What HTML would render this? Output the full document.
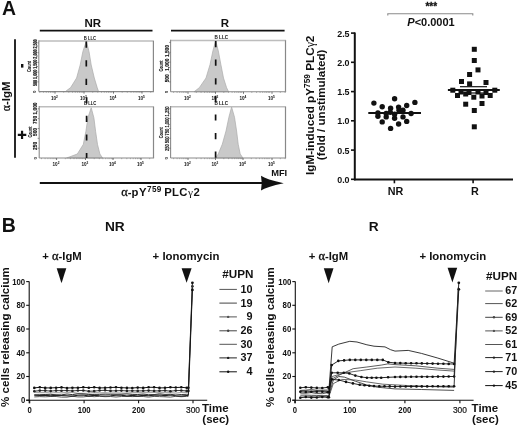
<!DOCTYPE html>
<html><head><meta charset="utf-8"><style>
html,body{margin:0;padding:0;background:#fff;}
svg{display:block;filter:grayscale(1) blur(0.3px);}
text{font-family:"Liberation Sans",sans-serif;fill:#111;}
</style></head><body>
<svg width="520" height="429" viewBox="0 0 520 429">
<text x="1.9" y="14.6" font-size="19.4" font-weight="bold" text-anchor="start" >A</text>
<text x="92.7" y="26.7" font-size="11.5" font-weight="bold" text-anchor="middle" >NR</text>
<text x="225" y="26.8" font-size="11.5" font-weight="bold" text-anchor="middle" >R</text>
<line x1="39.8" y1="30.6" x2="152.5" y2="30.6" stroke="#111" stroke-width="1.6"/>
<line x1="171" y1="30.6" x2="284.6" y2="30.6" stroke="#111" stroke-width="1.6"/>
<line x1="15" y1="39.2" x2="15" y2="157.8" stroke="#111" stroke-width="1.8"/>
<text transform="translate(10.3,96.3) rotate(-90)" font-size="11.5" font-weight="bold" text-anchor="middle"><tspan font-family="Liberation Serif, serif" font-weight="normal" font-size="1.0em" stroke="#111" stroke-width="0.3">&#945;</tspan>-IgM</text>
<rect x="21" y="64" width="2.4" height="3.6" fill="#111"/>
<path d="M17.8,134.9 H26.3 M22.05,130.8 V139" stroke="#111" stroke-width="2.2"/>
<line x1="38.8" y1="41" x2="154.0" y2="41" stroke="#bdbdbd" stroke-width="1.5"/>
<line x1="153.4" y1="41" x2="153.4" y2="91.6" stroke="#888" stroke-width="1.2"/>
<path d="M65.3,91.6 L70.6,87.6 L76.6,78.0 L80.2,64.9 L82.9,51.4 L86.3,41.3 L89.0,51.4 L91.2,64.9 L94.3,78.0 L97.2,87.6 L98.6,91.6 Z" fill="#c9c9c9" stroke="#aaaaaa" stroke-width="0.7" stroke-linejoin="round"/>
<line x1="38.8" y1="40.3" x2="38.8" y2="91.6" stroke="#8a8a8a" stroke-width="1.1"/>
<line x1="38.8" y1="91.6" x2="154.0" y2="91.6" stroke="#8a8a8a" stroke-width="1.1"/>
<line x1="86.3" y1="41.6" x2="86.3" y2="91.6" stroke="#111" stroke-width="1.7" stroke-dasharray="6.2,12.4"/>
<text x="83.7" y="39.6" font-size="4.6" font-weight="bold" fill="#222" textLength="12.4" lengthAdjust="spacingAndGlyphs">B LLC</text>
<line x1="55" y1="91.6" x2="55" y2="93.6" stroke="#555" stroke-width="0.8"/>
<line x1="63.7" y1="91.6" x2="63.7" y2="92.8" stroke="#777" stroke-width="0.5"/>
<line x1="68.8" y1="91.6" x2="68.8" y2="92.8" stroke="#777" stroke-width="0.5"/>
<line x1="72.5" y1="91.6" x2="72.5" y2="92.8" stroke="#777" stroke-width="0.5"/>
<line x1="75.3" y1="91.6" x2="75.3" y2="92.8" stroke="#777" stroke-width="0.5"/>
<line x1="77.6" y1="91.6" x2="77.6" y2="92.8" stroke="#777" stroke-width="0.5"/>
<line x1="79.5" y1="91.6" x2="79.5" y2="92.8" stroke="#777" stroke-width="0.5"/>
<line x1="81.2" y1="91.6" x2="81.2" y2="92.8" stroke="#777" stroke-width="0.5"/>
<line x1="82.7" y1="91.6" x2="82.7" y2="92.8" stroke="#777" stroke-width="0.5"/>
<text x="54.4" y="99.6" font-size="4.6" text-anchor="middle" fill="#333" font-weight="bold">10<tspan dy="-1.8" font-size="3.2">2</tspan></text>
<line x1="84" y1="91.6" x2="84" y2="93.6" stroke="#555" stroke-width="0.8"/>
<line x1="92.7" y1="91.6" x2="92.7" y2="92.8" stroke="#777" stroke-width="0.5"/>
<line x1="97.8" y1="91.6" x2="97.8" y2="92.8" stroke="#777" stroke-width="0.5"/>
<line x1="101.5" y1="91.6" x2="101.5" y2="92.8" stroke="#777" stroke-width="0.5"/>
<line x1="104.3" y1="91.6" x2="104.3" y2="92.8" stroke="#777" stroke-width="0.5"/>
<line x1="106.6" y1="91.6" x2="106.6" y2="92.8" stroke="#777" stroke-width="0.5"/>
<line x1="108.5" y1="91.6" x2="108.5" y2="92.8" stroke="#777" stroke-width="0.5"/>
<line x1="110.2" y1="91.6" x2="110.2" y2="92.8" stroke="#777" stroke-width="0.5"/>
<line x1="111.7" y1="91.6" x2="111.7" y2="92.8" stroke="#777" stroke-width="0.5"/>
<text x="83.4" y="99.6" font-size="4.6" text-anchor="middle" fill="#333" font-weight="bold">10<tspan dy="-1.8" font-size="3.2">3</tspan></text>
<line x1="113.5" y1="91.6" x2="113.5" y2="93.6" stroke="#555" stroke-width="0.8"/>
<line x1="122.2" y1="91.6" x2="122.2" y2="92.8" stroke="#777" stroke-width="0.5"/>
<line x1="127.3" y1="91.6" x2="127.3" y2="92.8" stroke="#777" stroke-width="0.5"/>
<line x1="131.0" y1="91.6" x2="131.0" y2="92.8" stroke="#777" stroke-width="0.5"/>
<line x1="133.8" y1="91.6" x2="133.8" y2="92.8" stroke="#777" stroke-width="0.5"/>
<line x1="136.1" y1="91.6" x2="136.1" y2="92.8" stroke="#777" stroke-width="0.5"/>
<line x1="138.0" y1="91.6" x2="138.0" y2="92.8" stroke="#777" stroke-width="0.5"/>
<line x1="139.7" y1="91.6" x2="139.7" y2="92.8" stroke="#777" stroke-width="0.5"/>
<line x1="141.2" y1="91.6" x2="141.2" y2="92.8" stroke="#777" stroke-width="0.5"/>
<text x="112.9" y="99.6" font-size="4.6" text-anchor="middle" fill="#333" font-weight="bold">10<tspan dy="-1.8" font-size="3.2">4</tspan></text>
<line x1="142" y1="91.6" x2="142" y2="93.6" stroke="#555" stroke-width="0.8"/>
<line x1="150.7" y1="91.6" x2="150.7" y2="92.8" stroke="#777" stroke-width="0.5"/>
<text x="141.4" y="99.6" font-size="4.6" text-anchor="middle" fill="#333" font-weight="bold">10<tspan dy="-1.8" font-size="3.2">5</tspan></text>
<line x1="39.8" y1="91.6" x2="39.8" y2="92.8" stroke="#777" stroke-width="0.5"/>
<line x1="43.5" y1="91.6" x2="43.5" y2="92.8" stroke="#777" stroke-width="0.5"/>
<line x1="46.3" y1="91.6" x2="46.3" y2="92.8" stroke="#777" stroke-width="0.5"/>
<line x1="48.6" y1="91.6" x2="48.6" y2="92.8" stroke="#777" stroke-width="0.5"/>
<line x1="50.5" y1="91.6" x2="50.5" y2="92.8" stroke="#777" stroke-width="0.5"/>
<line x1="52.2" y1="91.6" x2="52.2" y2="92.8" stroke="#777" stroke-width="0.5"/>
<line x1="53.7" y1="91.6" x2="53.7" y2="92.8" stroke="#777" stroke-width="0.5"/>
<line x1="37.3" y1="81.9" x2="38.8" y2="81.9" stroke="#555" stroke-width="0.6"/>
<line x1="37.3" y1="72.1" x2="38.8" y2="72.1" stroke="#555" stroke-width="0.6"/>
<line x1="37.3" y1="62.4" x2="38.8" y2="62.4" stroke="#555" stroke-width="0.6"/>
<line x1="37.3" y1="52.7" x2="38.8" y2="52.7" stroke="#555" stroke-width="0.6"/>
<line x1="37.3" y1="42.9" x2="38.8" y2="42.9" stroke="#555" stroke-width="0.6"/>
<text transform="translate(36.699999999999996,62.7) rotate(-90)" font-size="5" text-anchor="middle" fill="#222" font-weight="bold" stroke="#222" stroke-width="0.15" textLength="46.6" lengthAdjust="spacingAndGlyphs">500 1,000 1,500 2,000 2,500</text>
<text transform="translate(31.199999999999996,66.4) rotate(-90)" font-size="4.7" text-anchor="middle" font-weight="bold" fill="#222" stroke="#222" stroke-width="0.12" textLength="11" lengthAdjust="spacingAndGlyphs">Count</text>
<text transform="translate(36.4,91.89999999999999) rotate(-90)" font-size="4.4" text-anchor="middle" fill="#222" font-weight="bold">0</text>
<line x1="170.6" y1="40.4" x2="286.1" y2="40.4" stroke="#bdbdbd" stroke-width="1.5"/>
<line x1="285.5" y1="40.4" x2="285.5" y2="91.8" stroke="#888" stroke-width="1.2"/>
<path d="M194.0,91.8 L199.3,87.7 L206.0,78.0 L210.0,64.7 L212.9,50.9 L215.7,40.7 L218.3,50.9 L220.9,64.7 L223.5,78.0 L226.6,87.7 L228.6,91.8 Z" fill="#c9c9c9" stroke="#aaaaaa" stroke-width="0.7" stroke-linejoin="round"/>
<line x1="170.6" y1="39.699999999999996" x2="170.6" y2="91.8" stroke="#8a8a8a" stroke-width="1.1"/>
<line x1="170.6" y1="91.8" x2="286.1" y2="91.8" stroke="#8a8a8a" stroke-width="1.1"/>
<line x1="215.7" y1="41.0" x2="215.7" y2="91.8" stroke="#111" stroke-width="1.7" stroke-dasharray="6.2,12.4"/>
<text x="214.5" y="39.0" font-size="4.6" font-weight="bold" fill="#222" textLength="13.6" lengthAdjust="spacingAndGlyphs">B LLC</text>
<line x1="188" y1="91.8" x2="188" y2="93.8" stroke="#555" stroke-width="0.8"/>
<line x1="196.3" y1="91.8" x2="196.3" y2="93.0" stroke="#777" stroke-width="0.5"/>
<line x1="201.1" y1="91.8" x2="201.1" y2="93.0" stroke="#777" stroke-width="0.5"/>
<line x1="204.6" y1="91.8" x2="204.6" y2="93.0" stroke="#777" stroke-width="0.5"/>
<line x1="207.2" y1="91.8" x2="207.2" y2="93.0" stroke="#777" stroke-width="0.5"/>
<line x1="209.4" y1="91.8" x2="209.4" y2="93.0" stroke="#777" stroke-width="0.5"/>
<line x1="211.2" y1="91.8" x2="211.2" y2="93.0" stroke="#777" stroke-width="0.5"/>
<line x1="212.8" y1="91.8" x2="212.8" y2="93.0" stroke="#777" stroke-width="0.5"/>
<line x1="214.2" y1="91.8" x2="214.2" y2="93.0" stroke="#777" stroke-width="0.5"/>
<text x="187.4" y="99.8" font-size="4.6" text-anchor="middle" fill="#333" font-weight="bold">10<tspan dy="-1.8" font-size="3.2">2</tspan></text>
<line x1="215.5" y1="91.8" x2="215.5" y2="93.8" stroke="#555" stroke-width="0.8"/>
<line x1="223.8" y1="91.8" x2="223.8" y2="93.0" stroke="#777" stroke-width="0.5"/>
<line x1="228.6" y1="91.8" x2="228.6" y2="93.0" stroke="#777" stroke-width="0.5"/>
<line x1="232.1" y1="91.8" x2="232.1" y2="93.0" stroke="#777" stroke-width="0.5"/>
<line x1="234.7" y1="91.8" x2="234.7" y2="93.0" stroke="#777" stroke-width="0.5"/>
<line x1="236.9" y1="91.8" x2="236.9" y2="93.0" stroke="#777" stroke-width="0.5"/>
<line x1="238.7" y1="91.8" x2="238.7" y2="93.0" stroke="#777" stroke-width="0.5"/>
<line x1="240.3" y1="91.8" x2="240.3" y2="93.0" stroke="#777" stroke-width="0.5"/>
<line x1="241.7" y1="91.8" x2="241.7" y2="93.0" stroke="#777" stroke-width="0.5"/>
<text x="214.9" y="99.8" font-size="4.6" text-anchor="middle" fill="#333" font-weight="bold">10<tspan dy="-1.8" font-size="3.2">3</tspan></text>
<line x1="243.5" y1="91.8" x2="243.5" y2="93.8" stroke="#555" stroke-width="0.8"/>
<line x1="251.8" y1="91.8" x2="251.8" y2="93.0" stroke="#777" stroke-width="0.5"/>
<line x1="256.6" y1="91.8" x2="256.6" y2="93.0" stroke="#777" stroke-width="0.5"/>
<line x1="260.1" y1="91.8" x2="260.1" y2="93.0" stroke="#777" stroke-width="0.5"/>
<line x1="262.7" y1="91.8" x2="262.7" y2="93.0" stroke="#777" stroke-width="0.5"/>
<line x1="264.9" y1="91.8" x2="264.9" y2="93.0" stroke="#777" stroke-width="0.5"/>
<line x1="266.7" y1="91.8" x2="266.7" y2="93.0" stroke="#777" stroke-width="0.5"/>
<line x1="268.3" y1="91.8" x2="268.3" y2="93.0" stroke="#777" stroke-width="0.5"/>
<line x1="269.7" y1="91.8" x2="269.7" y2="93.0" stroke="#777" stroke-width="0.5"/>
<text x="242.9" y="99.8" font-size="4.6" text-anchor="middle" fill="#333" font-weight="bold">10<tspan dy="-1.8" font-size="3.2">4</tspan></text>
<line x1="272" y1="91.8" x2="272" y2="93.8" stroke="#555" stroke-width="0.8"/>
<line x1="280.3" y1="91.8" x2="280.3" y2="93.0" stroke="#777" stroke-width="0.5"/>
<line x1="285.1" y1="91.8" x2="285.1" y2="93.0" stroke="#777" stroke-width="0.5"/>
<text x="271.4" y="99.8" font-size="4.6" text-anchor="middle" fill="#333" font-weight="bold">10<tspan dy="-1.8" font-size="3.2">5</tspan></text>
<line x1="173.6" y1="91.8" x2="173.6" y2="93.0" stroke="#777" stroke-width="0.5"/>
<line x1="177.1" y1="91.8" x2="177.1" y2="93.0" stroke="#777" stroke-width="0.5"/>
<line x1="179.7" y1="91.8" x2="179.7" y2="93.0" stroke="#777" stroke-width="0.5"/>
<line x1="181.9" y1="91.8" x2="181.9" y2="93.0" stroke="#777" stroke-width="0.5"/>
<line x1="183.7" y1="91.8" x2="183.7" y2="93.0" stroke="#777" stroke-width="0.5"/>
<line x1="185.3" y1="91.8" x2="185.3" y2="93.0" stroke="#777" stroke-width="0.5"/>
<line x1="186.7" y1="91.8" x2="186.7" y2="93.0" stroke="#777" stroke-width="0.5"/>
<line x1="169.1" y1="81.9" x2="170.6" y2="81.9" stroke="#555" stroke-width="0.6"/>
<line x1="169.1" y1="72.0" x2="170.6" y2="72.0" stroke="#555" stroke-width="0.6"/>
<line x1="169.1" y1="62.1" x2="170.6" y2="62.1" stroke="#555" stroke-width="0.6"/>
<line x1="169.1" y1="52.3" x2="170.6" y2="52.3" stroke="#555" stroke-width="0.6"/>
<line x1="169.1" y1="42.4" x2="170.6" y2="42.4" stroke="#555" stroke-width="0.6"/>
<text transform="translate(168.5,78.3) rotate(-90)" font-size="4.8" text-anchor="middle" fill="#222" font-weight="bold" stroke="#222" stroke-width="0.15">500</text>
<text transform="translate(168.5,64.7) rotate(-90)" font-size="4.8" text-anchor="middle" fill="#222" font-weight="bold" stroke="#222" stroke-width="0.15">1,000</text>
<text transform="translate(168.5,51.1) rotate(-90)" font-size="4.8" text-anchor="middle" fill="#222" font-weight="bold" stroke="#222" stroke-width="0.15">1,500</text>
<text transform="translate(163.0,66) rotate(-90)" font-size="4.7" text-anchor="middle" font-weight="bold" fill="#222" stroke="#222" stroke-width="0.12" textLength="11" lengthAdjust="spacingAndGlyphs">Count</text>
<text transform="translate(168.2,92.1) rotate(-90)" font-size="4.4" text-anchor="middle" fill="#222" font-weight="bold">0</text>
<line x1="39.2" y1="106.8" x2="154.1" y2="106.8" stroke="#bdbdbd" stroke-width="1.5"/>
<line x1="153.5" y1="106.8" x2="153.5" y2="158" stroke="#888" stroke-width="1.2"/>
<path d="M66.6,158.0 L77.3,154.0 L83.3,144.4 L85.9,131.3 L87.9,117.8 L91.2,107.7 L93.9,117.8 L95.6,131.3 L97.5,144.4 L99.9,154.0 L102.6,158.0 Z" fill="#c9c9c9" stroke="#aaaaaa" stroke-width="0.7" stroke-linejoin="round"/>
<line x1="39.2" y1="106.1" x2="39.2" y2="158" stroke="#8a8a8a" stroke-width="1.1"/>
<line x1="39.2" y1="158" x2="154.1" y2="158" stroke="#8a8a8a" stroke-width="1.1"/>
<line x1="86.6" y1="97.2" x2="86.6" y2="158" stroke="#111" stroke-width="1.7" stroke-dasharray="6.2,12.4"/>
<text x="84.0" y="105.39999999999999" font-size="4.6" font-weight="bold" fill="#222" textLength="12.4" lengthAdjust="spacingAndGlyphs">B LLC</text>
<line x1="56.6" y1="158" x2="56.6" y2="160" stroke="#555" stroke-width="0.8"/>
<line x1="65.3" y1="158" x2="65.3" y2="159.2" stroke="#777" stroke-width="0.5"/>
<line x1="70.4" y1="158" x2="70.4" y2="159.2" stroke="#777" stroke-width="0.5"/>
<line x1="74.0" y1="158" x2="74.0" y2="159.2" stroke="#777" stroke-width="0.5"/>
<line x1="76.8" y1="158" x2="76.8" y2="159.2" stroke="#777" stroke-width="0.5"/>
<line x1="79.1" y1="158" x2="79.1" y2="159.2" stroke="#777" stroke-width="0.5"/>
<line x1="81.0" y1="158" x2="81.0" y2="159.2" stroke="#777" stroke-width="0.5"/>
<line x1="82.7" y1="158" x2="82.7" y2="159.2" stroke="#777" stroke-width="0.5"/>
<line x1="84.2" y1="158" x2="84.2" y2="159.2" stroke="#777" stroke-width="0.5"/>
<text x="56.0" y="166" font-size="4.6" text-anchor="middle" fill="#333" font-weight="bold">10<tspan dy="-1.8" font-size="3.2">2</tspan></text>
<line x1="85.5" y1="158" x2="85.5" y2="160" stroke="#555" stroke-width="0.8"/>
<line x1="94.2" y1="158" x2="94.2" y2="159.2" stroke="#777" stroke-width="0.5"/>
<line x1="99.3" y1="158" x2="99.3" y2="159.2" stroke="#777" stroke-width="0.5"/>
<line x1="102.9" y1="158" x2="102.9" y2="159.2" stroke="#777" stroke-width="0.5"/>
<line x1="105.7" y1="158" x2="105.7" y2="159.2" stroke="#777" stroke-width="0.5"/>
<line x1="108.0" y1="158" x2="108.0" y2="159.2" stroke="#777" stroke-width="0.5"/>
<line x1="109.9" y1="158" x2="109.9" y2="159.2" stroke="#777" stroke-width="0.5"/>
<line x1="111.6" y1="158" x2="111.6" y2="159.2" stroke="#777" stroke-width="0.5"/>
<line x1="113.1" y1="158" x2="113.1" y2="159.2" stroke="#777" stroke-width="0.5"/>
<text x="84.9" y="166" font-size="4.6" text-anchor="middle" fill="#333" font-weight="bold">10<tspan dy="-1.8" font-size="3.2">3</tspan></text>
<line x1="113" y1="158" x2="113" y2="160" stroke="#555" stroke-width="0.8"/>
<line x1="121.7" y1="158" x2="121.7" y2="159.2" stroke="#777" stroke-width="0.5"/>
<line x1="126.8" y1="158" x2="126.8" y2="159.2" stroke="#777" stroke-width="0.5"/>
<line x1="130.4" y1="158" x2="130.4" y2="159.2" stroke="#777" stroke-width="0.5"/>
<line x1="133.2" y1="158" x2="133.2" y2="159.2" stroke="#777" stroke-width="0.5"/>
<line x1="135.5" y1="158" x2="135.5" y2="159.2" stroke="#777" stroke-width="0.5"/>
<line x1="137.4" y1="158" x2="137.4" y2="159.2" stroke="#777" stroke-width="0.5"/>
<line x1="139.1" y1="158" x2="139.1" y2="159.2" stroke="#777" stroke-width="0.5"/>
<line x1="140.6" y1="158" x2="140.6" y2="159.2" stroke="#777" stroke-width="0.5"/>
<text x="112.4" y="166" font-size="4.6" text-anchor="middle" fill="#333" font-weight="bold">10<tspan dy="-1.8" font-size="3.2">4</tspan></text>
<line x1="141" y1="158" x2="141" y2="160" stroke="#555" stroke-width="0.8"/>
<line x1="149.7" y1="158" x2="149.7" y2="159.2" stroke="#777" stroke-width="0.5"/>
<text x="140.4" y="166" font-size="4.6" text-anchor="middle" fill="#333" font-weight="bold">10<tspan dy="-1.8" font-size="3.2">5</tspan></text>
<line x1="41.5" y1="158" x2="41.5" y2="159.2" stroke="#777" stroke-width="0.5"/>
<line x1="45.1" y1="158" x2="45.1" y2="159.2" stroke="#777" stroke-width="0.5"/>
<line x1="47.9" y1="158" x2="47.9" y2="159.2" stroke="#777" stroke-width="0.5"/>
<line x1="50.2" y1="158" x2="50.2" y2="159.2" stroke="#777" stroke-width="0.5"/>
<line x1="52.1" y1="158" x2="52.1" y2="159.2" stroke="#777" stroke-width="0.5"/>
<line x1="53.8" y1="158" x2="53.8" y2="159.2" stroke="#777" stroke-width="0.5"/>
<line x1="55.3" y1="158" x2="55.3" y2="159.2" stroke="#777" stroke-width="0.5"/>
<line x1="37.7" y1="148.2" x2="39.2" y2="148.2" stroke="#555" stroke-width="0.6"/>
<line x1="37.7" y1="138.3" x2="39.2" y2="138.3" stroke="#555" stroke-width="0.6"/>
<line x1="37.7" y1="128.5" x2="39.2" y2="128.5" stroke="#555" stroke-width="0.6"/>
<line x1="37.7" y1="118.6" x2="39.2" y2="118.6" stroke="#555" stroke-width="0.6"/>
<line x1="37.7" y1="108.8" x2="39.2" y2="108.8" stroke="#555" stroke-width="0.6"/>
<text transform="translate(37.1,145.9) rotate(-90)" font-size="4.8" text-anchor="middle" fill="#222" font-weight="bold" stroke="#222" stroke-width="0.15">250</text>
<text transform="translate(37.1,132) rotate(-90)" font-size="4.8" text-anchor="middle" fill="#222" font-weight="bold" stroke="#222" stroke-width="0.15">500</text>
<text transform="translate(37.1,119.9) rotate(-90)" font-size="4.8" text-anchor="middle" fill="#222" font-weight="bold" stroke="#222" stroke-width="0.15">750</text>
<text transform="translate(37.1,108.5) rotate(-90)" font-size="4.8" text-anchor="middle" fill="#222" font-weight="bold" stroke="#222" stroke-width="0.15">1,000</text>
<text transform="translate(31.6,132) rotate(-90)" font-size="4.7" text-anchor="middle" font-weight="bold" fill="#222" stroke="#222" stroke-width="0.12" textLength="11" lengthAdjust="spacingAndGlyphs">Count</text>
<text transform="translate(36.800000000000004,158.3) rotate(-90)" font-size="4.4" text-anchor="middle" fill="#222" font-weight="bold">0</text>
<line x1="170.6" y1="106.8" x2="286.1" y2="106.8" stroke="#bdbdbd" stroke-width="1.5"/>
<line x1="285.5" y1="106.8" x2="285.5" y2="158" stroke="#888" stroke-width="1.2"/>
<path d="M215.6,158.0 L218.3,153.9 L222.3,144.2 L226.0,131.0 L228.9,117.2 L231.6,107.0 L234.5,117.2 L236.6,131.0 L238.2,144.2 L240.2,153.9 L242.9,158.0 Z" fill="#c9c9c9" stroke="#aaaaaa" stroke-width="0.7" stroke-linejoin="round"/>
<line x1="170.6" y1="106.1" x2="170.6" y2="158" stroke="#8a8a8a" stroke-width="1.1"/>
<line x1="170.6" y1="158" x2="286.1" y2="158" stroke="#8a8a8a" stroke-width="1.1"/>
<line x1="215.6" y1="95.8" x2="215.6" y2="158" stroke="#111" stroke-width="1.7" stroke-dasharray="6.2,12.4"/>
<text x="214.4" y="105.39999999999999" font-size="4.6" font-weight="bold" fill="#222" textLength="13.6" lengthAdjust="spacingAndGlyphs">B LLC</text>
<line x1="188" y1="158" x2="188" y2="160" stroke="#555" stroke-width="0.8"/>
<line x1="196.3" y1="158" x2="196.3" y2="159.2" stroke="#777" stroke-width="0.5"/>
<line x1="201.1" y1="158" x2="201.1" y2="159.2" stroke="#777" stroke-width="0.5"/>
<line x1="204.6" y1="158" x2="204.6" y2="159.2" stroke="#777" stroke-width="0.5"/>
<line x1="207.2" y1="158" x2="207.2" y2="159.2" stroke="#777" stroke-width="0.5"/>
<line x1="209.4" y1="158" x2="209.4" y2="159.2" stroke="#777" stroke-width="0.5"/>
<line x1="211.2" y1="158" x2="211.2" y2="159.2" stroke="#777" stroke-width="0.5"/>
<line x1="212.8" y1="158" x2="212.8" y2="159.2" stroke="#777" stroke-width="0.5"/>
<line x1="214.2" y1="158" x2="214.2" y2="159.2" stroke="#777" stroke-width="0.5"/>
<text x="187.4" y="166" font-size="4.6" text-anchor="middle" fill="#333" font-weight="bold">10<tspan dy="-1.8" font-size="3.2">2</tspan></text>
<line x1="215.5" y1="158" x2="215.5" y2="160" stroke="#555" stroke-width="0.8"/>
<line x1="223.8" y1="158" x2="223.8" y2="159.2" stroke="#777" stroke-width="0.5"/>
<line x1="228.6" y1="158" x2="228.6" y2="159.2" stroke="#777" stroke-width="0.5"/>
<line x1="232.1" y1="158" x2="232.1" y2="159.2" stroke="#777" stroke-width="0.5"/>
<line x1="234.7" y1="158" x2="234.7" y2="159.2" stroke="#777" stroke-width="0.5"/>
<line x1="236.9" y1="158" x2="236.9" y2="159.2" stroke="#777" stroke-width="0.5"/>
<line x1="238.7" y1="158" x2="238.7" y2="159.2" stroke="#777" stroke-width="0.5"/>
<line x1="240.3" y1="158" x2="240.3" y2="159.2" stroke="#777" stroke-width="0.5"/>
<line x1="241.7" y1="158" x2="241.7" y2="159.2" stroke="#777" stroke-width="0.5"/>
<text x="214.9" y="166" font-size="4.6" text-anchor="middle" fill="#333" font-weight="bold">10<tspan dy="-1.8" font-size="3.2">3</tspan></text>
<line x1="243" y1="158" x2="243" y2="160" stroke="#555" stroke-width="0.8"/>
<line x1="251.3" y1="158" x2="251.3" y2="159.2" stroke="#777" stroke-width="0.5"/>
<line x1="256.1" y1="158" x2="256.1" y2="159.2" stroke="#777" stroke-width="0.5"/>
<line x1="259.6" y1="158" x2="259.6" y2="159.2" stroke="#777" stroke-width="0.5"/>
<line x1="262.2" y1="158" x2="262.2" y2="159.2" stroke="#777" stroke-width="0.5"/>
<line x1="264.4" y1="158" x2="264.4" y2="159.2" stroke="#777" stroke-width="0.5"/>
<line x1="266.2" y1="158" x2="266.2" y2="159.2" stroke="#777" stroke-width="0.5"/>
<line x1="267.8" y1="158" x2="267.8" y2="159.2" stroke="#777" stroke-width="0.5"/>
<line x1="269.2" y1="158" x2="269.2" y2="159.2" stroke="#777" stroke-width="0.5"/>
<text x="242.4" y="166" font-size="4.6" text-anchor="middle" fill="#333" font-weight="bold">10<tspan dy="-1.8" font-size="3.2">4</tspan></text>
<line x1="272" y1="158" x2="272" y2="160" stroke="#555" stroke-width="0.8"/>
<line x1="280.3" y1="158" x2="280.3" y2="159.2" stroke="#777" stroke-width="0.5"/>
<line x1="285.1" y1="158" x2="285.1" y2="159.2" stroke="#777" stroke-width="0.5"/>
<text x="271.4" y="166" font-size="4.6" text-anchor="middle" fill="#333" font-weight="bold">10<tspan dy="-1.8" font-size="3.2">5</tspan></text>
<line x1="173.6" y1="158" x2="173.6" y2="159.2" stroke="#777" stroke-width="0.5"/>
<line x1="177.1" y1="158" x2="177.1" y2="159.2" stroke="#777" stroke-width="0.5"/>
<line x1="179.7" y1="158" x2="179.7" y2="159.2" stroke="#777" stroke-width="0.5"/>
<line x1="181.9" y1="158" x2="181.9" y2="159.2" stroke="#777" stroke-width="0.5"/>
<line x1="183.7" y1="158" x2="183.7" y2="159.2" stroke="#777" stroke-width="0.5"/>
<line x1="185.3" y1="158" x2="185.3" y2="159.2" stroke="#777" stroke-width="0.5"/>
<line x1="186.7" y1="158" x2="186.7" y2="159.2" stroke="#777" stroke-width="0.5"/>
<line x1="169.1" y1="148.2" x2="170.6" y2="148.2" stroke="#555" stroke-width="0.6"/>
<line x1="169.1" y1="138.3" x2="170.6" y2="138.3" stroke="#555" stroke-width="0.6"/>
<line x1="169.1" y1="128.5" x2="170.6" y2="128.5" stroke="#555" stroke-width="0.6"/>
<line x1="169.1" y1="118.6" x2="170.6" y2="118.6" stroke="#555" stroke-width="0.6"/>
<line x1="169.1" y1="108.8" x2="170.6" y2="108.8" stroke="#555" stroke-width="0.6"/>
<text transform="translate(168.5,128.7) rotate(-90)" font-size="5" text-anchor="middle" fill="#222" font-weight="bold" stroke="#222" stroke-width="0.15" textLength="44.6" lengthAdjust="spacingAndGlyphs">250 500 750 1,000 1,250</text>
<text transform="translate(163.0,132.7) rotate(-90)" font-size="4.7" text-anchor="middle" font-weight="bold" fill="#222" stroke="#222" stroke-width="0.12" textLength="11" lengthAdjust="spacingAndGlyphs">Count</text>
<text transform="translate(168.2,158.3) rotate(-90)" font-size="4.4" text-anchor="middle" fill="#222" font-weight="bold">0</text>
<line x1="39.8" y1="183" x2="263" y2="183" stroke="#111" stroke-width="2"/>
<path d="M261,175.8 Q266,179.5 283.8,183.2 Q266,186.8 261,190.6 Q262.5,183.2 261,175.8 Z" fill="#111"/>
<text x="279.2" y="175.8" font-size="9.3" font-weight="bold" text-anchor="middle" >MFI</text>
<text x="121.3" y="195.6" font-size="11.3" font-weight="bold"><tspan font-family="Liberation Serif, serif" font-weight="normal" font-size="1.1em" stroke="#111" stroke-width="0.3">&#945;</tspan>-p<tspan dx="0.4">Y</tspan><tspan font-size="8.2" dx="0.6" dy="-4.0" letter-spacing="0.35">759</tspan><tspan dy="4.0" letter-spacing="0.3" dx="-1"> PLC</tspan><tspan font-family="Liberation Serif, serif" font-weight="normal" dx="0.3">&#947;</tspan><tspan dx="0.4">2</tspan></text>
<line x1="354.8" y1="32.5" x2="354.8" y2="180.3" stroke="#111" stroke-width="2"/>
<line x1="354" y1="179.4" x2="513" y2="179.4" stroke="#111" stroke-width="2"/>
<line x1="351" y1="179.3" x2="355" y2="179.3" stroke="#111" stroke-width="1.6"/>
<text x="349.6" y="182.8" font-size="8.6" font-weight="bold" text-anchor="end" textLength="12.4" lengthAdjust="spacingAndGlyphs">0.0</text>
<line x1="351" y1="150.1" x2="355" y2="150.1" stroke="#111" stroke-width="1.6"/>
<text x="349.6" y="153.55" font-size="8.6" font-weight="bold" text-anchor="end" textLength="12.4" lengthAdjust="spacingAndGlyphs">0.5</text>
<line x1="351" y1="120.8" x2="355" y2="120.8" stroke="#111" stroke-width="1.6"/>
<text x="349.6" y="124.30000000000001" font-size="8.6" font-weight="bold" text-anchor="end" textLength="12.4" lengthAdjust="spacingAndGlyphs">1.0</text>
<line x1="351" y1="91.6" x2="355" y2="91.6" stroke="#111" stroke-width="1.6"/>
<text x="349.6" y="95.05000000000001" font-size="8.6" font-weight="bold" text-anchor="end" textLength="12.4" lengthAdjust="spacingAndGlyphs">1.5</text>
<line x1="351" y1="62.3" x2="355" y2="62.3" stroke="#111" stroke-width="1.6"/>
<text x="349.6" y="65.80000000000001" font-size="8.6" font-weight="bold" text-anchor="end" textLength="12.4" lengthAdjust="spacingAndGlyphs">2.0</text>
<line x1="351" y1="33.1" x2="355" y2="33.1" stroke="#111" stroke-width="1.6"/>
<text x="349.6" y="36.55000000000001" font-size="8.6" font-weight="bold" text-anchor="end" textLength="12.4" lengthAdjust="spacingAndGlyphs">2.5</text>
<line x1="394.4" y1="179.4" x2="394.4" y2="183.3" stroke="#111" stroke-width="1.6"/>
<line x1="473.1" y1="179.4" x2="473.1" y2="183.3" stroke="#111" stroke-width="1.6"/>
<text x="395.6" y="195" font-size="10.8" font-weight="bold" text-anchor="middle" >NR</text>
<text x="474.9" y="195" font-size="10.8" font-weight="bold" text-anchor="middle" >R</text>
<text transform="translate(314.2,105.3) rotate(-90)" font-size="11.7" font-weight="bold" text-anchor="middle">IgM-induced pY<tspan font-size="8.4" dy="-4.2">759</tspan><tspan dy="4.2"> PLC</tspan><tspan font-family="Liberation Serif, serif" font-weight="normal">&#947;</tspan>2</text>
<text transform="translate(325.0,104.9) rotate(-90)" font-size="10.9" font-weight="bold" text-anchor="middle" textLength="110.5" lengthAdjust="spacingAndGlyphs">(fold / unstimulated)</text>
<text x="431.3" y="10.2" font-size="10" font-weight="bold" text-anchor="middle" stroke="#111" stroke-width="0.3">***</text>
<path d="M387.8,15.6 L387.8,13.8 L472.8,13.8 L472.8,15.6" fill="none" stroke="#8a8a8a" stroke-width="1.1"/>
<text x="431" y="26" font-size="11" font-weight="bold" text-anchor="middle"><tspan font-style="italic">P</tspan>&lt;0.0001</text>
<circle cx="373.9" cy="103.1" r="2.7" fill="#111"/>
<circle cx="394.6" cy="98.7" r="2.7" fill="#111"/>
<circle cx="414.9" cy="102.4" r="2.7" fill="#111"/>
<circle cx="382.2" cy="106.8" r="2.7" fill="#111"/>
<circle cx="390.6" cy="108.2" r="2.7" fill="#111"/>
<circle cx="398.6" cy="107.1" r="2.7" fill="#111"/>
<circle cx="406.7" cy="105.5" r="2.7" fill="#111"/>
<circle cx="377.9" cy="112.9" r="2.7" fill="#111"/>
<circle cx="377.9" cy="116.2" r="2.7" fill="#111"/>
<circle cx="382.2" cy="121.9" r="2.7" fill="#111"/>
<circle cx="390.6" cy="128.4" r="2.7" fill="#111"/>
<circle cx="398.6" cy="124" r="2.7" fill="#111"/>
<circle cx="406.7" cy="121.4" r="2.7" fill="#111"/>
<circle cx="386.2" cy="116.9" r="2.7" fill="#111"/>
<circle cx="394.6" cy="118.3" r="2.7" fill="#111"/>
<circle cx="403" cy="116.9" r="2.7" fill="#111"/>
<circle cx="411.1" cy="113.5" r="2.7" fill="#111"/>
<circle cx="399" cy="110.2" r="2.7" fill="#111"/>
<circle cx="403" cy="110.2" r="2.7" fill="#111"/>
<circle cx="390.3" cy="112.2" r="2.7" fill="#111"/>
<circle cx="394.6" cy="114.2" r="2.7" fill="#111"/>
<circle cx="386.2" cy="113.5" r="2.7" fill="#111"/>
<line x1="368.3" y1="113" x2="421" y2="113" stroke="#111" stroke-width="2"/>
<rect x="471.8" y="46.8" width="5" height="5" fill="#111"/>
<rect x="471.8" y="58.0" width="5" height="5" fill="#111"/>
<rect x="475.5" y="67.4" width="5" height="5" fill="#111"/>
<rect x="467.1" y="72.0" width="5" height="5" fill="#111"/>
<rect x="459.0" y="79.0" width="5" height="5" fill="#111"/>
<rect x="467.1" y="81.4" width="5" height="5" fill="#111"/>
<rect x="483.5" y="80.0" width="5" height="5" fill="#111"/>
<rect x="450.3" y="87.7" width="5" height="5" fill="#111"/>
<rect x="492.3" y="87.7" width="5" height="5" fill="#111"/>
<rect x="455.0" y="93.0" width="5" height="5" fill="#111"/>
<rect x="463.2" y="91.5" width="5" height="5" fill="#111"/>
<rect x="471.3" y="94.7" width="5" height="5" fill="#111"/>
<rect x="479.5" y="93.5" width="5" height="5" fill="#111"/>
<rect x="487.7" y="93.0" width="5" height="5" fill="#111"/>
<rect x="458.5" y="89.5" width="5" height="5" fill="#111"/>
<rect x="466.5" y="90.0" width="5" height="5" fill="#111"/>
<rect x="475.5" y="89.5" width="5" height="5" fill="#111"/>
<rect x="483.5" y="90.0" width="5" height="5" fill="#111"/>
<rect x="463.2" y="101.7" width="5" height="5" fill="#111"/>
<rect x="479.5" y="101.0" width="5" height="5" fill="#111"/>
<rect x="471.8" y="108.0" width="5" height="5" fill="#111"/>
<rect x="471.8" y="124.3" width="5" height="5" fill="#111"/>
<line x1="447.9" y1="90" x2="499.8" y2="90" stroke="#111" stroke-width="2"/>
<line x1="460" y1="86.7" x2="487" y2="86.7" stroke="#111" stroke-width="1.2"/>
<line x1="460" y1="93" x2="487" y2="93" stroke="#111" stroke-width="1.2"/>
<text x="1.8" y="231.9" font-size="19.5" font-weight="bold" text-anchor="start" >B</text>
<text x="114.8" y="231.2" font-size="13.7" font-weight="bold" text-anchor="middle" >NR</text>
<text x="373.8" y="230.8" font-size="13.7" font-weight="bold" text-anchor="middle" >R</text>
<text x="42.3" y="259.8" font-size="11.3" font-weight="bold">+ <tspan font-family="Liberation Serif, serif" font-weight="normal" font-size="1.1em" stroke="#111" stroke-width="0.35">&#945;</tspan>-IgM</text>
<path d="M56.7,268.3 L66.3,268.3 L61.5,283.3 Z" fill="#111"/>
<text x="152.6" y="259.9" font-size="11.4" font-weight="bold" text-anchor="start" >+ Ionomycin</text>
<path d="M181.6,268.3 L191.6,268.3 L186.6,282.8 Z" fill="#111"/>
<line x1="29.2" y1="281.6" x2="29.2" y2="403.2" stroke="#111" stroke-width="1.1"/>
<line x1="26.2" y1="400.2" x2="207.2" y2="400.2" stroke="#111" stroke-width="1.1"/>
<line x1="26.2" y1="400.2" x2="29.2" y2="400.2" stroke="#111" stroke-width="1.1"/>
<text x="25.2" y="403.2" font-size="8.3" font-weight="bold" text-anchor="end" textLength="4.3" lengthAdjust="spacingAndGlyphs">0</text>
<line x1="26.2" y1="376.5" x2="29.2" y2="376.5" stroke="#111" stroke-width="1.1"/>
<text x="25.2" y="379.48" font-size="8.3" font-weight="bold" text-anchor="end" textLength="8.7" lengthAdjust="spacingAndGlyphs">20</text>
<line x1="26.2" y1="352.8" x2="29.2" y2="352.8" stroke="#111" stroke-width="1.1"/>
<text x="25.2" y="355.76" font-size="8.3" font-weight="bold" text-anchor="end" textLength="8.7" lengthAdjust="spacingAndGlyphs">40</text>
<line x1="26.2" y1="329.0" x2="29.2" y2="329.0" stroke="#111" stroke-width="1.1"/>
<text x="25.2" y="332.03999999999996" font-size="8.3" font-weight="bold" text-anchor="end" textLength="8.7" lengthAdjust="spacingAndGlyphs">60</text>
<line x1="26.2" y1="305.3" x2="29.2" y2="305.3" stroke="#111" stroke-width="1.1"/>
<text x="25.2" y="308.32" font-size="8.3" font-weight="bold" text-anchor="end" textLength="8.7" lengthAdjust="spacingAndGlyphs">80</text>
<line x1="26.2" y1="281.6" x2="29.2" y2="281.6" stroke="#111" stroke-width="1.1"/>
<text x="25.2" y="284.6" font-size="8.3" font-weight="bold" text-anchor="end" textLength="13.0" lengthAdjust="spacingAndGlyphs">100</text>
<line x1="29.7" y1="400.2" x2="29.7" y2="403.2" stroke="#111" stroke-width="1.1"/>
<text x="29.7" y="412.6" font-size="8.3" font-weight="bold" text-anchor="middle" textLength="4.3" lengthAdjust="spacingAndGlyphs">0</text>
<line x1="84.1" y1="400.2" x2="84.1" y2="403.2" stroke="#111" stroke-width="1.1"/>
<text x="84.13" y="412.6" font-size="8.3" font-weight="bold" text-anchor="middle" textLength="13.0" lengthAdjust="spacingAndGlyphs">100</text>
<line x1="138.6" y1="400.2" x2="138.6" y2="403.2" stroke="#111" stroke-width="1.1"/>
<text x="138.56" y="412.6" font-size="8.3" font-weight="bold" text-anchor="middle" textLength="13.0" lengthAdjust="spacingAndGlyphs">200</text>
<line x1="193.0" y1="400.2" x2="193.0" y2="403.2" stroke="#111" stroke-width="1.1"/>
<text x="192.98999999999998" y="412.8" font-size="8.4" font-weight="normal" text-anchor="middle" stroke="#111" stroke-width="0.2">300</text>
<text transform="translate(9.2,337) rotate(-90)" font-size="11.6" font-weight="bold" text-anchor="middle">% cells releasing calcium</text>
<text x="202" y="411.6" font-size="11.5" font-weight="bold" text-anchor="start" >Time</text>
<text x="202.3" y="422.5" font-size="11.5" font-weight="bold" text-anchor="start" >(sec)</text>
<path d="M34.3,396.9 L39.8,396.6 L45.2,396.8 L50.7,396.5 L56.1,396.5 L61.5,397.1 L67.0,397.1 L72.4,396.3 L77.9,396.9 L83.3,396.9 L88.8,396.2 L94.2,396.7 L99.6,396.3 L105.1,396.7 L110.5,396.5 L116.0,397.0 L121.4,396.5 L126.9,396.3 L132.3,396.6 L137.7,396.4 L143.2,396.5 L148.6,397.1 L154.1,396.4 L159.5,396.6 L165.0,396.8 L170.4,397.1 L175.8,396.3 L181.3,396.7 L186.7,396.4 L188.4,396.4" fill="none" stroke="#555" stroke-width="1.0" stroke-linejoin="round"/>
<path d="M34.3,392.4 L39.8,392.6 L45.2,392.3 L50.7,393.0 L56.1,392.5 L61.5,392.9 L67.0,392.3 L72.4,392.4 L77.9,393.3 L83.3,393.3 L88.8,393.2 L94.2,392.3 L99.6,392.9 L105.1,392.7 L110.5,393.1 L116.0,392.8 L121.4,393.0 L126.9,393.0 L132.3,392.7 L137.7,392.7 L143.2,392.4 L148.6,392.6 L154.1,392.3 L159.5,392.4 L165.0,392.3 L170.4,392.6 L175.8,393.2 L181.3,392.4 L186.7,392.3 L188.4,392.3" fill="none" stroke="#aaa" stroke-width="1.2" stroke-linejoin="round"/>
<path d="M34.3,395.1 L39.8,395.5 L45.2,395.3 L50.7,395.9 L56.1,395.2 L61.5,395.5 L67.0,395.8 L72.4,396.1 L77.9,395.2 L83.3,395.0 L88.8,396.1 L94.2,395.2 L99.6,395.7 L105.1,396.0 L110.5,395.8 L116.0,395.3 L121.4,395.1 L126.9,396.1 L132.3,395.4 L137.7,396.1 L143.2,395.3 L148.6,395.8 L154.1,395.1 L159.5,395.0 L165.0,395.6 L170.4,395.0 L175.8,395.8 L181.3,396.1 L186.7,395.5 L188.4,395.5" fill="none" stroke="#222" stroke-width="1.1" stroke-linejoin="round"/>
<path d="M34.3,394.9 L39.8,394.7 L45.2,394.5 L50.7,394.3 L56.1,394.8 L61.5,394.9 L67.0,394.0 L72.4,394.6 L77.9,393.8 L83.3,393.9 L88.8,394.5 L94.2,394.4 L99.6,394.4 L105.1,394.2 L110.5,394.3 L116.0,394.3 L121.4,394.2 L126.9,393.9 L132.3,394.4 L137.7,394.5 L143.2,394.1 L148.6,394.7 L154.1,394.6 L159.5,393.8 L165.0,394.4 L170.4,394.3 L175.8,395.0 L181.3,394.5 L186.7,394.3 L188.4,394.3" fill="none" stroke="#333" stroke-width="1.0" stroke-linejoin="round"/>
<path d="M34.3,391.2 L39.8,390.6 L45.2,390.6 L50.7,391.1 L56.1,390.6 L61.5,390.7 L67.0,390.5 L72.4,390.9 L77.9,390.5 L83.3,390.5 L88.8,391.2 L94.2,391.1 L99.6,390.5 L105.1,390.3 L110.5,390.9 L116.0,390.8 L121.4,390.6 L126.9,390.9 L132.3,390.8 L137.7,390.9 L143.2,390.8 L148.6,390.6 L154.1,390.9 L159.5,390.8 L165.0,390.5 L170.4,391.2 L175.8,390.6 L181.3,390.5 L186.7,390.9 L188.4,390.9" fill="none" stroke="#222" stroke-width="0.9" stroke-linejoin="round"/>
<circle cx="34.3" cy="391.2" r="1.3" fill="#222"/>
<circle cx="39.8" cy="390.6" r="1.3" fill="#222"/>
<circle cx="45.2" cy="390.6" r="1.3" fill="#222"/>
<circle cx="50.7" cy="391.1" r="1.3" fill="#222"/>
<circle cx="56.1" cy="390.6" r="1.3" fill="#222"/>
<circle cx="61.5" cy="390.7" r="1.3" fill="#222"/>
<circle cx="67.0" cy="390.5" r="1.3" fill="#222"/>
<circle cx="72.4" cy="390.9" r="1.3" fill="#222"/>
<circle cx="77.9" cy="390.5" r="1.3" fill="#222"/>
<circle cx="83.3" cy="390.5" r="1.3" fill="#222"/>
<circle cx="88.8" cy="391.2" r="1.3" fill="#222"/>
<circle cx="94.2" cy="391.1" r="1.3" fill="#222"/>
<circle cx="99.6" cy="390.5" r="1.3" fill="#222"/>
<circle cx="105.1" cy="390.3" r="1.3" fill="#222"/>
<circle cx="110.5" cy="390.9" r="1.3" fill="#222"/>
<circle cx="116.0" cy="390.8" r="1.3" fill="#222"/>
<circle cx="121.4" cy="390.6" r="1.3" fill="#222"/>
<circle cx="126.9" cy="390.9" r="1.3" fill="#222"/>
<circle cx="132.3" cy="390.8" r="1.3" fill="#222"/>
<circle cx="137.7" cy="390.9" r="1.3" fill="#222"/>
<circle cx="143.2" cy="390.8" r="1.3" fill="#222"/>
<circle cx="148.6" cy="390.6" r="1.3" fill="#222"/>
<circle cx="154.1" cy="390.9" r="1.3" fill="#222"/>
<circle cx="159.5" cy="390.8" r="1.3" fill="#222"/>
<circle cx="165.0" cy="390.5" r="1.3" fill="#222"/>
<circle cx="170.4" cy="391.2" r="1.3" fill="#222"/>
<circle cx="175.8" cy="390.6" r="1.3" fill="#222"/>
<circle cx="181.3" cy="390.5" r="1.3" fill="#222"/>
<circle cx="186.7" cy="390.9" r="1.3" fill="#222"/>
<circle cx="188.4" cy="390.9" r="1.3" fill="#222"/>
<path d="M34.3,387.9 L39.8,387.3 L45.2,387.9 L50.7,387.9 L56.1,387.7 L61.5,387.4 L67.0,388.0 L72.4,387.8 L77.9,387.8 L83.3,387.3 L88.8,387.7 L94.2,387.3 L99.6,387.9 L105.1,387.8 L110.5,387.5 L116.0,387.3 L121.4,387.7 L126.9,387.9 L132.3,388.0 L137.7,387.6 L143.2,387.9 L148.6,387.3 L154.1,387.3 L159.5,387.9 L165.0,387.8 L170.4,387.3 L175.8,387.5 L181.3,387.3 L186.7,387.8 L188.4,387.8" fill="none" stroke="#111" stroke-width="1.0" stroke-linejoin="round"/>
<circle cx="34.3" cy="387.9" r="1.3" fill="#111"/>
<circle cx="39.8" cy="387.3" r="1.3" fill="#111"/>
<circle cx="45.2" cy="387.9" r="1.3" fill="#111"/>
<circle cx="50.7" cy="387.9" r="1.3" fill="#111"/>
<circle cx="56.1" cy="387.7" r="1.3" fill="#111"/>
<circle cx="61.5" cy="387.4" r="1.3" fill="#111"/>
<circle cx="67.0" cy="388.0" r="1.3" fill="#111"/>
<circle cx="72.4" cy="387.8" r="1.3" fill="#111"/>
<circle cx="77.9" cy="387.8" r="1.3" fill="#111"/>
<circle cx="83.3" cy="387.3" r="1.3" fill="#111"/>
<circle cx="88.8" cy="387.7" r="1.3" fill="#111"/>
<circle cx="94.2" cy="387.3" r="1.3" fill="#111"/>
<circle cx="99.6" cy="387.9" r="1.3" fill="#111"/>
<circle cx="105.1" cy="387.8" r="1.3" fill="#111"/>
<circle cx="110.5" cy="387.5" r="1.3" fill="#111"/>
<circle cx="116.0" cy="387.3" r="1.3" fill="#111"/>
<circle cx="121.4" cy="387.7" r="1.3" fill="#111"/>
<circle cx="126.9" cy="387.9" r="1.3" fill="#111"/>
<circle cx="132.3" cy="388.0" r="1.3" fill="#111"/>
<circle cx="137.7" cy="387.6" r="1.3" fill="#111"/>
<circle cx="143.2" cy="387.9" r="1.3" fill="#111"/>
<circle cx="148.6" cy="387.3" r="1.3" fill="#111"/>
<circle cx="154.1" cy="387.3" r="1.3" fill="#111"/>
<circle cx="159.5" cy="387.9" r="1.3" fill="#111"/>
<circle cx="165.0" cy="387.8" r="1.3" fill="#111"/>
<circle cx="170.4" cy="387.3" r="1.3" fill="#111"/>
<circle cx="175.8" cy="387.5" r="1.3" fill="#111"/>
<circle cx="181.3" cy="387.3" r="1.3" fill="#111"/>
<circle cx="186.7" cy="387.8" r="1.3" fill="#111"/>
<circle cx="188.4" cy="387.8" r="1.3" fill="#111"/>
<line x1="188.4" y1="387.6" x2="192.4" y2="282.8" stroke="#111" stroke-width="0.9"/>
<circle cx="192.4" cy="282.8" r="1.4" fill="#111"/>
<line x1="188.4" y1="390.7" x2="192.4" y2="286.3" stroke="#333" stroke-width="0.9"/>
<circle cx="192.4" cy="286.3" r="1.4" fill="#333"/>
<line x1="188.4" y1="395.5" x2="192.4" y2="289.9" stroke="#111" stroke-width="0.9"/>
<circle cx="192.4" cy="289.9" r="1.4" fill="#111"/>
<text x="222.2" y="277.9" font-size="11.7" font-weight="bold" text-anchor="start" >#UPN</text>
<line x1="219.4" y1="289.4" x2="236.9" y2="289.4" stroke="#555" stroke-width="1"/>
<text x="252.4" y="292.79999999999995" font-size="10.8" font-weight="bold" text-anchor="end" >10</text>
<line x1="219.4" y1="303.1" x2="236.9" y2="303.1" stroke="#444" stroke-width="1"/>
<text x="252.4" y="306.5" font-size="10.8" font-weight="bold" text-anchor="end" >19</text>
<line x1="219.4" y1="316.9" x2="236.9" y2="316.9" stroke="#555" stroke-width="1"/>
<circle cx="228.15" cy="316.9" r="1.2" fill="#555"/>
<text x="252.4" y="320.29999999999995" font-size="10.8" font-weight="bold" text-anchor="end" >9</text>
<line x1="219.4" y1="330.8" x2="236.9" y2="330.8" stroke="#444" stroke-width="1"/>
<circle cx="228.15" cy="330.8" r="1.2" fill="#444"/>
<text x="252.4" y="334.2" font-size="10.8" font-weight="bold" text-anchor="end" >26</text>
<line x1="219.4" y1="344.3" x2="236.9" y2="344.3" stroke="#555" stroke-width="1"/>
<text x="252.4" y="347.7" font-size="10.8" font-weight="bold" text-anchor="end" >30</text>
<line x1="219.4" y1="357.9" x2="236.9" y2="357.9" stroke="#222" stroke-width="1"/>
<circle cx="228.15" cy="357.9" r="1.2" fill="#222"/>
<text x="252.4" y="361.29999999999995" font-size="10.8" font-weight="bold" text-anchor="end" >37</text>
<line x1="219.4" y1="371.8" x2="236.9" y2="371.8" stroke="#111" stroke-width="1"/>
<circle cx="228.15" cy="371.8" r="1.2" fill="#111"/>
<text x="252.4" y="375.2" font-size="10.8" font-weight="bold" text-anchor="end" >4</text>
<text x="308.7" y="259.9" font-size="11.3" font-weight="bold">+ <tspan font-family="Liberation Serif, serif" font-weight="normal" font-size="1.1em" stroke="#111" stroke-width="0.35">&#945;</tspan>-IgM</text>
<path d="M323.8,268.3 L333.5,268.3 L328.65,283.2 Z" fill="#111"/>
<text x="419.4" y="259.9" font-size="11.4" font-weight="bold" text-anchor="start" >+ Ionomycin</text>
<path d="M447.6,267.8 L457.2,267.8 L452.4,282.6 Z" fill="#111"/>
<line x1="295.3" y1="281.6" x2="295.3" y2="403.2" stroke="#111" stroke-width="1.1"/>
<line x1="292.3" y1="400.2" x2="473.6" y2="400.2" stroke="#111" stroke-width="1.1"/>
<line x1="292.3" y1="400.2" x2="295.3" y2="400.2" stroke="#111" stroke-width="1.1"/>
<text x="291.3" y="403.2" font-size="8.3" font-weight="bold" text-anchor="end" textLength="4.3" lengthAdjust="spacingAndGlyphs">0</text>
<line x1="292.3" y1="376.5" x2="295.3" y2="376.5" stroke="#111" stroke-width="1.1"/>
<text x="291.3" y="379.48" font-size="8.3" font-weight="bold" text-anchor="end" textLength="8.7" lengthAdjust="spacingAndGlyphs">20</text>
<line x1="292.3" y1="352.8" x2="295.3" y2="352.8" stroke="#111" stroke-width="1.1"/>
<text x="291.3" y="355.76" font-size="8.3" font-weight="bold" text-anchor="end" textLength="8.7" lengthAdjust="spacingAndGlyphs">40</text>
<line x1="292.3" y1="329.0" x2="295.3" y2="329.0" stroke="#111" stroke-width="1.1"/>
<text x="291.3" y="332.03999999999996" font-size="8.3" font-weight="bold" text-anchor="end" textLength="8.7" lengthAdjust="spacingAndGlyphs">60</text>
<line x1="292.3" y1="305.3" x2="295.3" y2="305.3" stroke="#111" stroke-width="1.1"/>
<text x="291.3" y="308.32" font-size="8.3" font-weight="bold" text-anchor="end" textLength="8.7" lengthAdjust="spacingAndGlyphs">80</text>
<line x1="292.3" y1="281.6" x2="295.3" y2="281.6" stroke="#111" stroke-width="1.1"/>
<text x="291.3" y="284.6" font-size="8.3" font-weight="bold" text-anchor="end" textLength="13.0" lengthAdjust="spacingAndGlyphs">100</text>
<line x1="294.8" y1="400.2" x2="294.8" y2="403.2" stroke="#111" stroke-width="1.1"/>
<text x="294.8" y="412.6" font-size="8.3" font-weight="bold" text-anchor="middle" textLength="4.3" lengthAdjust="spacingAndGlyphs">0</text>
<line x1="349.8" y1="400.2" x2="349.8" y2="403.2" stroke="#111" stroke-width="1.1"/>
<text x="349.83000000000004" y="412.6" font-size="8.3" font-weight="bold" text-anchor="middle" textLength="13.0" lengthAdjust="spacingAndGlyphs">100</text>
<line x1="404.9" y1="400.2" x2="404.9" y2="403.2" stroke="#111" stroke-width="1.1"/>
<text x="404.86" y="412.6" font-size="8.3" font-weight="bold" text-anchor="middle" textLength="13.0" lengthAdjust="spacingAndGlyphs">200</text>
<line x1="459.9" y1="400.2" x2="459.9" y2="403.2" stroke="#111" stroke-width="1.1"/>
<text x="459.89" y="412.8" font-size="8.4" font-weight="normal" text-anchor="middle" stroke="#111" stroke-width="0.2">300</text>
<text transform="translate(273.8,337) rotate(-90)" font-size="11.6" font-weight="bold" text-anchor="middle">% cells releasing calcium</text>
<text x="471.6" y="411.6" font-size="11.5" font-weight="bold" text-anchor="start" >Time</text>
<text x="471.90000000000003" y="422.5" font-size="11.5" font-weight="bold" text-anchor="start" >(sec)</text>
<path d="M300.3,390.4 L305.8,390.2 L311.3,389.7 L316.8,390.3 L322.3,390.2 L327.8,390.1 L328.9,390.0 L332.2,346.8 L338.8,344.1 L349.8,341.3 L357.0,342.0 L366.9,344.8 L374.0,346.2 L385.0,346.9 L390.6,349.7 L395.0,351.1 L408.2,350.4 L421.4,353.4 L437.9,358.1 L454.1,363.2" fill="none" stroke="#222" stroke-width="0.9" stroke-linejoin="round"/>
<path d="M300.3,393.2 L305.8,393.2 L311.3,392.6 L316.8,393.5 L322.3,393.7 L327.8,392.6 L328.9,393.1 L332.2,378.9 L338.8,375.3 L353.1,368.7 L366.9,367.0 L381.2,365.1 L387.8,363.9 L395.0,364.6 L415.9,365.8 L437.9,368.2 L454.1,369.4" fill="none" stroke="#333" stroke-width="0.8" stroke-linejoin="round"/>
<path d="M300.3,390.9 L305.8,390.7 L311.3,391.4 L316.8,390.8 L322.3,390.8 L327.8,391.6 L328.9,391.3 L332.2,376.5 L344.3,372.9 L360.8,370.6 L377.3,368.2 L395.0,367.0 L415.9,368.2 L437.9,370.0 L454.1,371.1" fill="none" stroke="#444" stroke-width="0.8" stroke-linejoin="round"/>
<path d="M300.3,395.2 L305.8,395.1 L311.3,395.3 L316.8,395.4 L322.3,395.7 L327.8,395.6 L328.9,395.5 L333.3,380.0 L338.8,376.5 L344.3,377.1 L355.3,381.2 L366.3,384.8 L377.3,387.2 L395.0,388.9 L421.4,389.5 L454.1,390.4" fill="none" stroke="#222" stroke-width="0.8" stroke-linejoin="round"/>
<path d="M300.3,397.0 L305.8,397.2 L311.3,396.5 L316.8,396.9 L322.3,396.3 L327.8,397.2 L328.9,396.6 L333.3,383.6 L341.6,379.4 L355.3,380.0 L366.3,381.8 L382.8,384.2 L404.9,385.4 L432.4,386.6 L454.1,387.2" fill="none" stroke="#444" stroke-width="0.8" stroke-linejoin="round"/>
<path d="M300.3,391.8 L305.8,392.0 L311.3,391.8 L316.8,391.8 L322.3,391.8 L327.8,392.2 L328.9,392.3 L331.7,365.1 L338.3,360.9 L344.1,360.4 L349.8,359.9 L355.3,359.9 L360.8,359.9 L366.3,359.9 L371.8,359.9 L377.3,359.9 L382.8,359.9 L388.4,362.2 L395.0,363.0 L400.3,363.1 L405.7,363.2 L411.1,363.3 L416.5,363.3 L421.8,363.4 L427.2,363.5 L432.6,363.6 L438.0,363.7 L443.4,363.8 L448.7,363.9 L454.1,364.0" fill="none" stroke="#111" stroke-width="0.9" stroke-linejoin="round"/>
<circle cx="300.3" cy="391.8" r="1.3" fill="#111"/>
<circle cx="305.8" cy="392.0" r="1.3" fill="#111"/>
<circle cx="311.3" cy="391.8" r="1.3" fill="#111"/>
<circle cx="316.8" cy="391.8" r="1.3" fill="#111"/>
<circle cx="322.3" cy="391.8" r="1.3" fill="#111"/>
<circle cx="327.8" cy="392.2" r="1.3" fill="#111"/>
<circle cx="328.9" cy="392.3" r="1.3" fill="#111"/>
<circle cx="331.7" cy="365.1" r="1.3" fill="#111"/>
<circle cx="338.3" cy="360.9" r="1.3" fill="#111"/>
<circle cx="344.1" cy="360.4" r="1.3" fill="#111"/>
<circle cx="349.8" cy="359.9" r="1.3" fill="#111"/>
<circle cx="355.3" cy="359.9" r="1.3" fill="#111"/>
<circle cx="360.8" cy="359.9" r="1.3" fill="#111"/>
<circle cx="366.3" cy="359.9" r="1.3" fill="#111"/>
<circle cx="371.8" cy="359.9" r="1.3" fill="#111"/>
<circle cx="377.3" cy="359.9" r="1.3" fill="#111"/>
<circle cx="382.8" cy="359.9" r="1.3" fill="#111"/>
<circle cx="388.4" cy="362.2" r="1.3" fill="#111"/>
<circle cx="395.0" cy="363.0" r="1.3" fill="#111"/>
<circle cx="400.3" cy="363.1" r="1.3" fill="#111"/>
<circle cx="405.7" cy="363.2" r="1.3" fill="#111"/>
<circle cx="411.1" cy="363.3" r="1.3" fill="#111"/>
<circle cx="416.5" cy="363.3" r="1.3" fill="#111"/>
<circle cx="421.8" cy="363.4" r="1.3" fill="#111"/>
<circle cx="427.2" cy="363.5" r="1.3" fill="#111"/>
<circle cx="432.6" cy="363.6" r="1.3" fill="#111"/>
<circle cx="438.0" cy="363.7" r="1.3" fill="#111"/>
<circle cx="443.4" cy="363.8" r="1.3" fill="#111"/>
<circle cx="448.7" cy="363.9" r="1.3" fill="#111"/>
<circle cx="454.1" cy="364.0" r="1.3" fill="#111"/>
<path d="M300.3,397.8 L305.8,396.9 L311.3,397.6 L316.8,397.5 L322.3,397.0 L327.8,397.2 L328.9,397.2 L331.7,372.8 L337.7,372.8 L343.8,372.8 L349.3,373.5 L355.3,375.6 L361.4,377.0 L366.9,377.7 L371.7,377.7 L376.4,377.7 L381.2,377.7 L388.1,377.3 L395.0,377.0 L400.3,376.9 L405.7,376.9 L411.1,376.8 L416.5,376.8 L421.8,376.7 L427.2,376.7 L432.6,376.7 L438.0,376.6 L443.4,376.6 L448.7,376.5 L454.1,376.5" fill="none" stroke="#111" stroke-width="0.9" stroke-linejoin="round"/>
<circle cx="300.3" cy="397.8" r="1.3" fill="#111"/>
<circle cx="305.8" cy="396.9" r="1.3" fill="#111"/>
<circle cx="311.3" cy="397.6" r="1.3" fill="#111"/>
<circle cx="316.8" cy="397.5" r="1.3" fill="#111"/>
<circle cx="322.3" cy="397.0" r="1.3" fill="#111"/>
<circle cx="327.8" cy="397.2" r="1.3" fill="#111"/>
<circle cx="328.9" cy="397.2" r="1.3" fill="#111"/>
<circle cx="331.7" cy="372.8" r="1.3" fill="#111"/>
<circle cx="337.7" cy="372.8" r="1.3" fill="#111"/>
<circle cx="343.8" cy="372.8" r="1.3" fill="#111"/>
<circle cx="349.3" cy="373.5" r="1.3" fill="#111"/>
<circle cx="355.3" cy="375.6" r="1.3" fill="#111"/>
<circle cx="361.4" cy="377.0" r="1.3" fill="#111"/>
<circle cx="366.9" cy="377.7" r="1.3" fill="#111"/>
<circle cx="371.7" cy="377.7" r="1.3" fill="#111"/>
<circle cx="376.4" cy="377.7" r="1.3" fill="#111"/>
<circle cx="381.2" cy="377.7" r="1.3" fill="#111"/>
<circle cx="388.1" cy="377.3" r="1.3" fill="#111"/>
<circle cx="395.0" cy="377.0" r="1.3" fill="#111"/>
<circle cx="400.3" cy="376.9" r="1.3" fill="#111"/>
<circle cx="405.7" cy="376.9" r="1.3" fill="#111"/>
<circle cx="411.1" cy="376.8" r="1.3" fill="#111"/>
<circle cx="416.5" cy="376.8" r="1.3" fill="#111"/>
<circle cx="421.8" cy="376.7" r="1.3" fill="#111"/>
<circle cx="427.2" cy="376.7" r="1.3" fill="#111"/>
<circle cx="432.6" cy="376.7" r="1.3" fill="#111"/>
<circle cx="438.0" cy="376.6" r="1.3" fill="#111"/>
<circle cx="443.4" cy="376.6" r="1.3" fill="#111"/>
<circle cx="448.7" cy="376.5" r="1.3" fill="#111"/>
<circle cx="454.1" cy="376.5" r="1.3" fill="#111"/>
<path d="M300.3,387.8 L305.8,387.2 L311.3,387.6 L316.8,387.9 L322.3,388.0 L327.8,387.3 L328.9,387.7 L331.7,379.4 L338.8,380.0 L346.0,381.9 L352.9,383.4 L359.7,384.8 L364.5,385.2 L369.3,385.7 L374.0,386.1 L379.3,386.2 L384.5,386.3 L389.7,386.4 L395.0,386.6 L400.3,386.5 L405.7,386.5 L411.1,386.5 L416.5,386.4 L421.8,386.4 L427.2,386.4 L432.6,386.3 L438.0,386.3 L443.4,386.3 L448.7,386.2 L454.1,386.2" fill="none" stroke="#111" stroke-width="0.9" stroke-linejoin="round"/>
<circle cx="300.3" cy="387.8" r="1.3" fill="#111"/>
<circle cx="305.8" cy="387.2" r="1.3" fill="#111"/>
<circle cx="311.3" cy="387.6" r="1.3" fill="#111"/>
<circle cx="316.8" cy="387.9" r="1.3" fill="#111"/>
<circle cx="322.3" cy="388.0" r="1.3" fill="#111"/>
<circle cx="327.8" cy="387.3" r="1.3" fill="#111"/>
<circle cx="328.9" cy="387.7" r="1.3" fill="#111"/>
<circle cx="331.7" cy="379.4" r="1.3" fill="#111"/>
<circle cx="338.8" cy="380.0" r="1.3" fill="#111"/>
<circle cx="346.0" cy="381.9" r="1.3" fill="#111"/>
<circle cx="352.9" cy="383.4" r="1.3" fill="#111"/>
<circle cx="359.7" cy="384.8" r="1.3" fill="#111"/>
<circle cx="364.5" cy="385.2" r="1.3" fill="#111"/>
<circle cx="369.3" cy="385.7" r="1.3" fill="#111"/>
<circle cx="374.0" cy="386.1" r="1.3" fill="#111"/>
<circle cx="379.3" cy="386.2" r="1.3" fill="#111"/>
<circle cx="384.5" cy="386.3" r="1.3" fill="#111"/>
<circle cx="389.7" cy="386.4" r="1.3" fill="#111"/>
<circle cx="395.0" cy="386.6" r="1.3" fill="#111"/>
<circle cx="400.3" cy="386.5" r="1.3" fill="#111"/>
<circle cx="405.7" cy="386.5" r="1.3" fill="#111"/>
<circle cx="411.1" cy="386.5" r="1.3" fill="#111"/>
<circle cx="416.5" cy="386.4" r="1.3" fill="#111"/>
<circle cx="421.8" cy="386.4" r="1.3" fill="#111"/>
<circle cx="427.2" cy="386.4" r="1.3" fill="#111"/>
<circle cx="432.6" cy="386.3" r="1.3" fill="#111"/>
<circle cx="438.0" cy="386.3" r="1.3" fill="#111"/>
<circle cx="443.4" cy="386.3" r="1.3" fill="#111"/>
<circle cx="448.7" cy="386.2" r="1.3" fill="#111"/>
<circle cx="454.1" cy="386.2" r="1.3" fill="#111"/>
<line x1="454.1" y1="364.0" x2="458.8" y2="282.8" stroke="#111" stroke-width="0.9"/>
<circle cx="458.8" cy="282.8" r="1.4" fill="#111"/>
<line x1="454.1" y1="376.5" x2="458.8" y2="289.3" stroke="#111" stroke-width="0.9"/>
<circle cx="458.8" cy="289.3" r="1.4" fill="#111"/>
<line x1="454.1" y1="386.2" x2="458.2" y2="287.5" stroke="#222" stroke-width="0.9"/>
<text x="486" y="279.6" font-size="11.7" font-weight="bold" text-anchor="start" >#UPN</text>
<line x1="485.2" y1="291" x2="502.7" y2="291" stroke="#666" stroke-width="1"/>
<text x="517.2" y="294.4" font-size="10.8" font-weight="bold" text-anchor="end" >67</text>
<line x1="485.2" y1="303.6" x2="502.7" y2="303.6" stroke="#555" stroke-width="1"/>
<text x="517.2" y="307.0" font-size="10.8" font-weight="bold" text-anchor="end" >62</text>
<line x1="485.2" y1="317.3" x2="502.7" y2="317.3" stroke="#444" stroke-width="1"/>
<circle cx="493.95" cy="317.3" r="1.2" fill="#444"/>
<text x="517.2" y="320.7" font-size="10.8" font-weight="bold" text-anchor="end" >69</text>
<line x1="485.2" y1="330.9" x2="502.7" y2="330.9" stroke="#555" stroke-width="1"/>
<circle cx="493.95" cy="330.9" r="1.2" fill="#555"/>
<text x="517.2" y="334.29999999999995" font-size="10.8" font-weight="bold" text-anchor="end" >52</text>
<line x1="485.2" y1="344.5" x2="502.7" y2="344.5" stroke="#555" stroke-width="1"/>
<text x="517.2" y="347.9" font-size="10.8" font-weight="bold" text-anchor="end" >61</text>
<line x1="485.2" y1="357.6" x2="502.7" y2="357.6" stroke="#222" stroke-width="1"/>
<circle cx="493.95" cy="357.6" r="1.2" fill="#222"/>
<text x="517.2" y="361.0" font-size="10.8" font-weight="bold" text-anchor="end" >71</text>
<line x1="485.2" y1="371.6" x2="502.7" y2="371.6" stroke="#222" stroke-width="1"/>
<circle cx="493.95" cy="371.6" r="1.2" fill="#222"/>
<text x="517.2" y="375.0" font-size="10.8" font-weight="bold" text-anchor="end" >70</text>
<line x1="485.2" y1="385.6" x2="502.7" y2="385.6" stroke="#111" stroke-width="1"/>
<circle cx="493.95" cy="385.6" r="1.2" fill="#111"/>
<text x="517.2" y="389.0" font-size="10.8" font-weight="bold" text-anchor="end" >45</text>
</svg>
</body></html>
